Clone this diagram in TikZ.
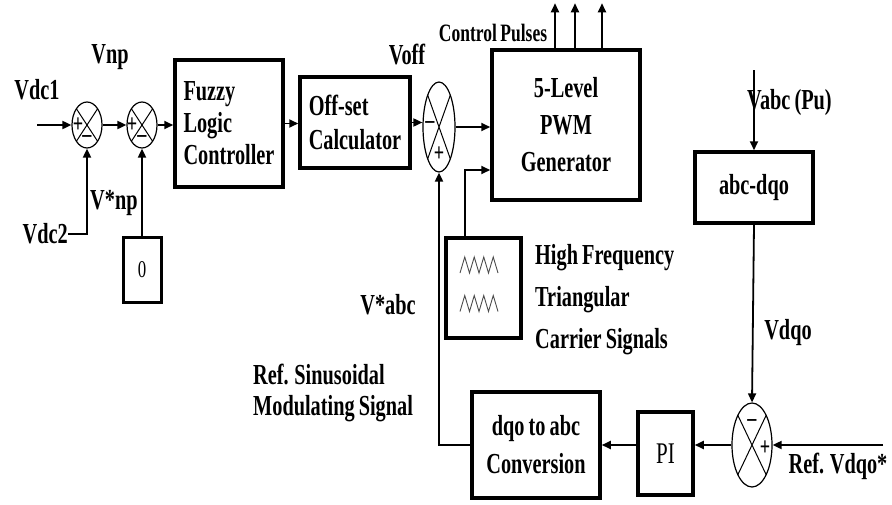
\documentclass[tikz,border=0pt]{standalone}
\usepackage{fontspec}
\setmainfont{Liberation Serif}[FakeStretch=0.7,WordSpace=0.8]
\usepackage{tikz}
\usetikzlibrary{shapes.geometric,arrows.meta,positioning,calc}
\newcommand{\fs}[2]{\fontsize{#1}{#2}\selectfont\bfseries}

\begin{document}
\begin{tikzpicture}[x=1pt,y=1pt,
        block/.style={draw,line width=3.5pt,align=center,inner sep=0pt,font=\fs{29}{34}},
        sumnode/.style={ellipse,draw,line width=1.2pt,inner sep=0pt,minimum width=30pt,minimum height=46pt,
                     path picture={\draw[line width=1pt] (path picture bounding box.north west) -- (path picture bounding box.south east)
                                   (path picture bounding box.north east) -- (path picture bounding box.south west);}},
        sgn/.style={font=\fontsize{26}{26}\selectfont\bfseries,inner sep=0pt},
        lbl/.style={align=left,inner sep=0pt,font=\fs{29}{34}},
        arr/.style={line width=1.8pt,-{Triangle[length=9pt,width=8pt]}}
    ]
        \useasboundingbox (0,0) rectangle (892,-504);

        % Summing junctions
        \node[sumnode] (s1) at (87,-125) {};
        \node[sumnode] (s2) at (142,-125) {};
        \node[sumnode,minimum width=32pt,minimum height=90pt] (s3) at (439,-127) {};
        \node[sumnode,minimum width=40pt,minimum height=84pt] (s4) at (752,-445) {};

        \node[sgn] at ([xshift=-9pt]s1.center) {+};
        \node[sgn] at ([yshift=-14pt]s1.center) {–};
        \node[sgn] at ([xshift=-10pt]s2.center) {+};
        \node[sgn] at ([yshift=-14pt]s2.center) {–};
        \node[sgn] at ([xshift=-9pt,yshift=2pt]s3.center) {–};
        \node[sgn] at ([yshift=-27pt]s3.center) {+};
        \node[sgn] at ([yshift=22pt]s4.center) {–};
        \node[sgn] at ([xshift=13pt,yshift=-3pt]s4.center) {+};

        % Blocks
        \node[block,minimum width=108pt,minimum height=127pt,align=left,font=\fs{29}{32}] (flc) at (229,-123.5) {Fuzzy\\Logic\\Controller};
        \node[block,minimum width=110pt,minimum height=91pt,align=left] (off) at (355,-122.5) {Off-set\\Calculator};
        \node[block,minimum width=148pt,minimum height=150pt,font=\fs{29}{37}] (pwm) at (566,-125) {5-Level\\PWM\\Generator};
        \node[block,minimum width=75pt,minimum height=100pt] (car) at (483.5,-288) {};
        \node[block,minimum width=118pt,minimum height=71pt] (abc) at (754,-187.5) {abc-dqo};
        \node[block,minimum width=128pt,minimum height=106pt,font=\fs{29}{38}] (dqo) at (536,-445) {dqo to abc\\Conversion};
        \node[block,minimum width=55pt,minimum height=83pt,font=\fontsize{30}{30}\selectfont] (pi) at (665.5,-453.5) {PI};
        \node[block,minimum width=38pt,minimum height=65pt,line width=3pt,font=\fontsize{24}{24}\selectfont] (zero) at (142,-269.5) {0};

        % Carrier waves
        \foreach \dy in {23,-15.5}
            \draw[gray!60!black,line width=0.9pt] ([shift={(-23.5,\dy-8)}]car.center)
                \foreach \k in {1,...,4} { -- ++(4.75,16) -- ++(4.75,-16) };

        % Labels
        \node[lbl] (vdc1) at (37,-90) {Vdc1};
        \node[lbl] (vnp) at (110,-57) {Vnp};
        \node[lbl,anchor=east] (vdc2) at (68,-234) {Vdc2};
        \node[lbl,anchor=west] (vnpref) at (90,-203) {V*np};
        \node[lbl] (voff) at (407,-55) {Voff};
        \node[lbl,font=\fs{25}{26}] (pulses) at (493,-33) {Control Pulses};
        \node[lbl,anchor=west,font=\fs{29}{42}] (cartxt) at (535,-300) {High Frequency\\Triangular\\Carrier Signals};
        \node[lbl] (vabcref) at (388,-305) {V*abc};
        \node[lbl,anchor=west,font=\fs{29}{31}] (sinus) at (253,-393) {Ref. Sinusoidal\\Modulating Signal};
        \node[lbl,anchor=west] (vabc) at (747,-103) {Vabc (Pu)};
        \node[lbl] (vdqo) at (788,-333) {Vdqo};
        \node[lbl] (refdqo) at (838,-466) {Ref. Vdqo*};

        % Free ends
        \coordinate (vin) at (37,-125);
        \coordinate (vabcin) at (754,-70);
        \coordinate (refin) at (883,-445);

        % Connectors
        \draw[arr] (vin) -- (s1.west);
        \draw[arr] (s1) -- (s2);
        \draw[arr] (s2.east) -- (s2.east -| flc.west);
        \draw[arr] (vdc2.east) -| (s1.south);
        \draw[arr] (zero) -- (s2.south);
        \draw[arr] (flc.east) -- (flc.east -| off.west);
        \draw[arr] (off.east) -- (off.east -| s3.west);
        \draw[arr] (s3.east) -- (s3.east -| pwm.west);
        \draw[arr] ([xshift=-18.5pt]car.north) |- ([yshift=-45pt]pwm.west);
        \foreach \dx in {-11,9,36}
            \draw[arr] ([xshift=\dx pt]pwm.north) -- ++(0,45);
        \draw[arr] (dqo.west) -| (s3.south);
        \draw[arr] (pi.west |- dqo.east) -- (dqo.east);
        \draw[arr] (s4.west) -- (s4.west -| pi.east);
        \draw[arr] (refin) -- (s4.east);
        \draw[arr] (vabcin) -- (abc.north);
        \draw[arr] (abc.south) -- (s4.north);
    \end{tikzpicture}
\end{document}
